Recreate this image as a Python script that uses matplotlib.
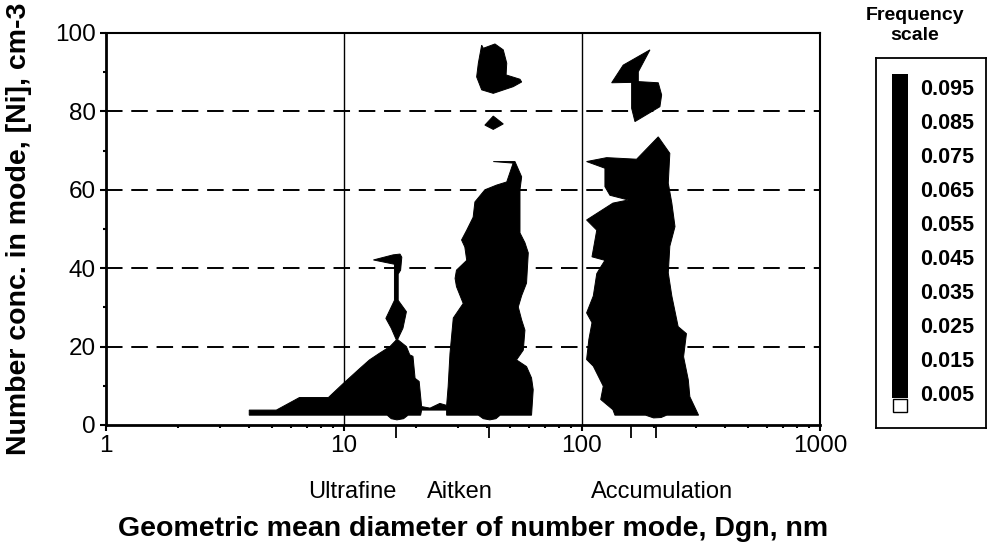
import matplotlib
matplotlib.use("Agg")
import matplotlib.pyplot as plt
from matplotlib.ticker import FixedLocator, LogLocator, NullFormatter

plt.rcParams["font.family"] = ["Liberation Sans", "DejaVu Sans"]

# Outlines of the high-frequency regions, (geometric mean diameter nm, number conc. cm-3)
# ultrafine mode joined to the Aitken column by a thin bridge near the baseline
lower_d = [4.0, 4.0, 5.2, 6.5, 8.6, 9.9, 11.7, 12.8, 14.1, 15.6, 16.6,
           15.8, 15.0, 16.3, 16.3, 13.3, 16.1, 17.2, 17.5, 17.3, 16.9, 16.9,
           18.3, 17.7, 16.8, 18.3, 18.9, 19.5, 19.9, 20.7, 21.2,
           23.0, 25.3, 27.0,
           27.4, 27.9, 28.8, 31.7, 29.7, 29.3, 29.7, 32.8, 32.2, 31.2, 32.8,
           34.9, 35.5, 39.1, 43.8, 48.3, 51.4, 42.4, 52.3,
           55.8, 54.9, 54.9, 57.6, 59.5, 58.5, 55.8, 54.0, 55.8, 57.6, 56.7,
           53.1, 58.5, 61.4, 62.4, 61.4,
           45.3, 43.5, 41.0, 38.5, 36.7, 27.0, 27.0, 21.2, 21.0,
           18.6, 17.8, 16.7, 15.8, 15.2]
lower_c = [2.5, 3.8, 3.8, 7.0, 7.0, 10.5, 14.5, 16.6, 18.3, 20.0, 21.7,
           24.7, 27.2, 31.8, 41.0, 42.1, 43.4, 43.6, 42.8, 39.5, 38.5, 31.8,
           28.9, 24.7, 21.8, 20.0, 17.9, 17.5, 11.9, 11.1, 4.7,
           4.3, 5.5, 5.0,
           9.8, 18.3, 27.3, 31.0, 35.3, 37.4, 39.5, 42.0, 45.4, 47.2, 49.7,
           53.0, 56.9, 60.0, 61.2, 62.0, 66.8, 67.2, 67.2,
           63.3, 60.0, 49.0, 46.5, 43.9, 36.2, 33.0, 30.1, 26.8, 24.2, 19.1,
           16.6, 14.9, 12.0, 9.0, 2.5,
           2.5, 1.6, 1.3, 1.6, 2.5, 2.5, 3.8, 3.8, 2.5,
           2.5, 1.6, 1.3, 1.6, 2.5]

aitken_top_d = [38.5, 43.1, 46.7, 48.3, 48.0, 54.9, 55.8, 51.4, 42.4, 37.9, 36.1, 36.7, 37.9]
aitken_top_c = [96.1, 97.2, 95.7, 92.3, 89.3, 88.2, 87.5, 86.3, 84.6, 85.5, 88.8, 92.3, 96.9]

aitken_dot_d = [39.1, 42.4, 46.7, 42.4]
aitken_dot_c = [76.5, 78.8, 76.8, 75.4]

accum_top_d = [193.1, 172.5, 172.5, 209.2, 216.2, 212.6, 167.0, 161.7, 161.7, 133.3, 149.0]
accum_top_c = [95.7, 90.1, 87.6, 87.3, 84.2, 81.2, 77.4, 80.8, 87.4, 87.3, 91.8]

accum_d = [137.6, 134.9, 119.9, 122.9, 111.6, 104.6, 106.9, 110.2, 104.6, 111.6, 115.4,
           119.9, 124.9, 110.2, 115.4, 104.6, 134.9, 156.5, 131.1, 124.9, 124.9,
           104.6, 127.0, 169.7, 209.2,
           234.0, 230.5, 238.6, 246.0, 234.0, 230.5, 238.6, 253.6, 274.8, 267.3,
           279.8, 284.0, 309.0,
           227.0, 215.0, 200.0, 185.0]
accum_c = [2.5, 3.9, 6.5, 9.9, 15.0, 16.7, 21.8, 26.1, 28.6, 32.9, 38.6,
           40.3, 42.0, 42.9, 49.7, 52.3, 56.6, 57.4, 58.6, 60.8, 65.5,
           67.2, 68.2, 67.8, 73.5,
           69.3, 61.7, 56.6, 50.6, 45.6, 38.8, 32.9, 25.1, 23.3, 17.4,
           11.5, 7.2, 2.5,
           2.5, 1.9, 1.8, 2.5]

mode_bounds = [10, 100]
mode_marks = [16.6, 40.5, 160.6, 204.4]
mode_names = ["Ultrafine", "Aitken", "Accumulation"]
mode_name_d = [10.8, 30.6, 218.0]
conc_grid = [20, 40, 60, 80]

levels = [0.095, 0.085, 0.075, 0.065, 0.055, 0.045, 0.035, 0.025, 0.015, 0.005]
level_colors = ["black"] * 9 + ["white"]

fig = plt.figure(figsize=(9.94, 5.48), dpi=100)
ax = fig.add_axes([0.1066, 0.2245, 0.7183, 0.7153])

for y in conc_grid:
    ax.axhline(y, color="black", lw=1.4, dashes=(8.5, 4.5), zorder=1)
for x in mode_bounds:
    ax.axvline(x, color="black", lw=1.0, zorder=1)

for d, c in [(lower_d, lower_c), (aitken_top_d, aitken_top_c), (aitken_dot_d, aitken_dot_c),
             (accum_top_d, accum_top_c), (accum_d, accum_c)]:
    ax.fill(d, c, facecolor="black", edgecolor="black", lw=0.7, zorder=3)

ax.set_xscale("log")
ax.set_xlim(1, 1000)
ax.set_ylim(0, 100)
ax.xaxis.set_major_locator(FixedLocator([1, 10, 100, 1000]))
ax.set_xticklabels(["1", "10", "100", "1000"])
ax.xaxis.set_minor_locator(LogLocator(base=10, subs=range(2, 10)))
ax.xaxis.set_minor_formatter(NullFormatter())
ax.set_yticks(range(0, 101, 20))
ax.set_yticks(range(10, 100, 20), minor=True)
ax.tick_params(which="major", direction="out", length=4.5, width=1.5, labelsize=17.5, pad=3)
ax.tick_params(which="minor", direction="out", length=2.2, width=1.5)
for side, sp in ax.spines.items():
    sp.set_linewidth(2.0 if side in ("left", "bottom") else 1.5)

# longer marks under the axis at the mode peaks
marks = ax.secondary_xaxis("bottom")
marks.xaxis.set_major_locator(FixedLocator(mode_marks))
marks.xaxis.set_minor_locator(FixedLocator([]))
marks.set_xticklabels([])
marks.tick_params(length=9, width=1.3, direction="out")
marks.spines["bottom"].set_visible(False)

for name, d in zip(mode_names, mode_name_d):
    ax.text(d, -0.172, name, transform=ax.get_xaxis_transform(), ha="center", va="center",
            fontsize=17)

ax.set_xlabel("Geometric mean diameter of number mode, Dgn, nm", fontsize=20.5, fontweight="bold")
ax.xaxis.set_label_coords(0.514, -0.232)
ax.set_ylabel("Number conc. in mode, [Ni], cm-3", fontsize=20.5, fontweight="bold")
ax.yaxis.set_label_coords(-0.103, 0.5)

# frequency scale key
fig.text(0.9205, 0.988, "Frequency\nscale", ha="center", va="top", fontsize=14,
         fontweight="bold", linespacing=1.3)
lax = fig.add_axes([0.8813, 0.219, 0.1107, 0.6752])
lax.set_xlim(0, 1)
lax.set_ylim(9.97, -0.94)
lax.set_xticks([])
lax.set_yticks([])
for sp in lax.spines.values():
    sp.set_linewidth(1.3)
step = 9.57 / 9
for i, (lvl, col) in enumerate(zip(levels, level_colors)):
    if col == "white":
        lax.bar(0.218, 0.38, width=0.12, bottom=9.12, color=col, edgecolor="black", lw=1.0)
    else:
        lax.bar(0.218, step, width=0.15, bottom=-0.47 + i * step, color=col, lw=0)
    lax.text(0.4, i, f"{lvl:.3f}", ha="left", va="center", fontsize=15.5, fontweight="bold")

fig.savefig("out.png", dpi=100)
